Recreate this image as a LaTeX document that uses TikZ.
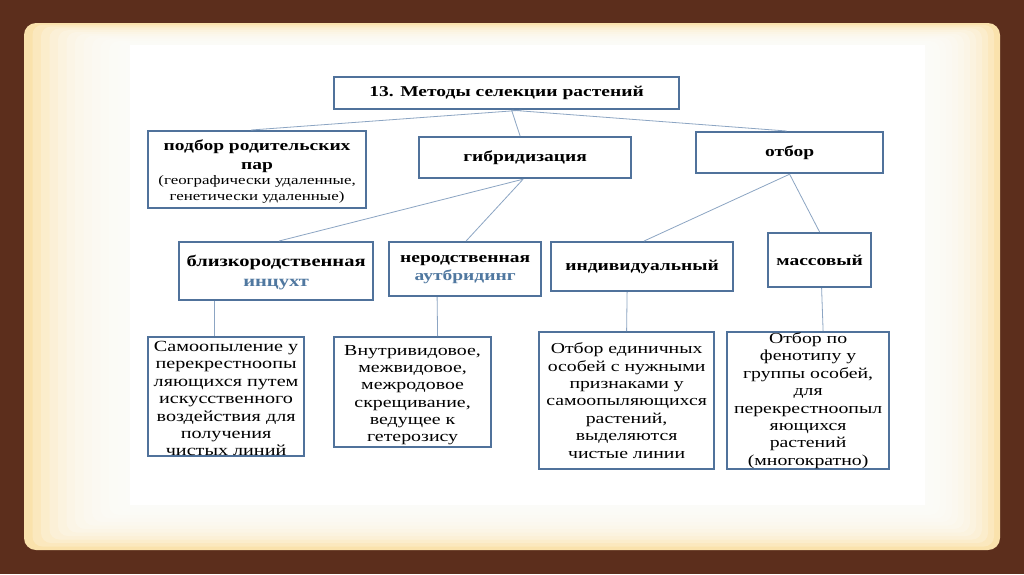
\documentclass[tikz,border=0pt]{standalone}
\usepackage{fontspec}
\setmainfont{Liberation Serif}[FakeStretch=1.3]
\newcommand\boxtext[4]{\vbox to #2{\hsize=#1\parindent=0pt\centering\vss\vskip #3 #4\par\vss}}
\begin{document}
\begin{tikzpicture}[x=1pt,y=-1pt,
  box/.style={draw=boxblue, line width=2.2pt, fill=white, inner sep=2pt, align=center, anchor=north west},
  tbox/.style={draw=boxblue, line width=2.2pt, fill=white, inner sep=0pt, anchor=north west},
  conn/.style={draw=lineblue, line width=0.8pt},
  hd/.style={font=\fontsize{15}{18}\selectfont\bfseries}]
\definecolor{bgbrown}{RGB}{92,46,28}
\definecolor{cream}{RGB}{250,226,172}
\definecolor{boxblue}{RGB}{80,114,155}
\definecolor{lineblue}{RGB}{140,165,195}
\definecolor{termblue}{RGB}{80,120,160}
\useasboundingbox (0,0) rectangle (1024,574);
\fill[bgbrown] (0,0) rectangle (1024,574);
\fill[cream, rounded corners=12pt] (24,23) rectangle (1000,550);
\foreach \i in {1,...,12}{
  \fill[white, fill opacity=0.22, rounded corners=10pt] (24+\i*8.5,23+\i*1.8) rectangle (1000-\i*6,550-\i*3.5);
}
\fill[white] (130,45) rectangle (925,505);
% level 0
\node[box, hd, minimum width=345pt, minimum height=32pt] (title) at (333,76) {13. Методы селекции растений};
% level 1
\node[tbox] (podbor) at (147,130) {\boxtext{218pt}{77pt}{3pt}{\bfseries\fontsize{15}{19}\selectfont подбор родительских\\ пар\par\mdseries\fontsize{13}{15.5}\selectfont (географически удаленные,\\ генетически удаленные)}};
\node[box, hd, minimum width=212pt, minimum height=41pt] (hybr) at (418,136) {гибридизация};
\node[box, hd, minimum width=187pt, minimum height=41pt] (otbor) at (695,131) {отбор};
% level 2
\node[tbox] (blizko) at (178,241) {\boxtext{194pt}{58pt}{3pt}{\bfseries\fontsize{15.8}{20}\selectfont близкородственная\\ \textcolor{termblue}{инцухт}}};
\node[tbox] (nerod) at (388,241) {\boxtext{152pt}{54pt}{1pt}{\bfseries\fontsize{15}{18}\selectfont неродственная\\ \textcolor{termblue}{аутбридинг}}};
\node[box, hd, minimum width=182pt, minimum height=49pt] (indiv) at (550,241) {индивидуальный};
\node[box, hd, minimum width=103pt, minimum height=54pt] (mass) at (767,232) {массовый};
% level 3
\node[tbox] (samo) at (147,336) {\boxtext{156pt}{119pt}{4pt}{\fontsize{15.5}{17.4}\selectfont Самоопыление у\\ перекрестноопы\\ ляющихся путем\\ искусственного\\ воздействия для\\ получения\\ чистых линий}};
\node[tbox] (vnutr) at (333,336) {\boxtext{157pt}{110pt}{6pt}{\fontsize{15.3}{17.2}\selectfont Внутривидовое,\\ межвидовое,\\ межродовое\\ скрещивание,\\ ведущее к\\ гетерозису}};
\node[tbox] (edin) at (538,331) {\boxtext{175pt}{137pt}{0pt}{\fontsize{15.2}{17.4}\selectfont Отбор единичных\\ особей с нужными\\ признаками у\\ самоопыляющихся\\ растений,\\ выделяются\\ чистые линии}};
\node[tbox] (feno) at (726,331) {\boxtext{162pt}{137pt}{0pt}{\fontsize{15.2}{17.4}\selectfont Отбор по\\ фенотипу у\\ группы особей,\\ для\\ перекрестноопыл\\ яющихся\\ растений\\ (многократно)}};
% connectors
\draw[conn] ([xshift=5pt]title.south) -- ([xshift=-5pt]hybr.north);
\draw[conn] ([xshift=15pt]title.south) -- ([xshift=-6pt]podbor.north);
\draw[conn] ([xshift=5pt]title.south) -- ([xshift=-3pt]otbor.north);
\draw[conn] ([xshift=-2pt]hybr.south) -- ([xshift=3pt]blizko.north);
\draw[conn] ([xshift=-2pt]hybr.south) -- ([xshift=1pt]nerod.north);
\draw[conn] (otbor.south) -- ([xshift=2pt]indiv.north);
\draw[conn] (otbor.south) -- (mass.north);
\draw[conn] ([xshift=-62pt]blizko.south) -- ([xshift=-12pt]samo.north);
\draw[conn] ([xshift=-28pt]nerod.south) -- ([xshift=25pt]vnutr.north);
\draw[conn] ([xshift=-15pt]indiv.south) -- (edin.north);
\draw[conn] ([xshift=2pt]mass.south) -- ([xshift=15pt]feno.north);
\end{tikzpicture}
\end{document}
